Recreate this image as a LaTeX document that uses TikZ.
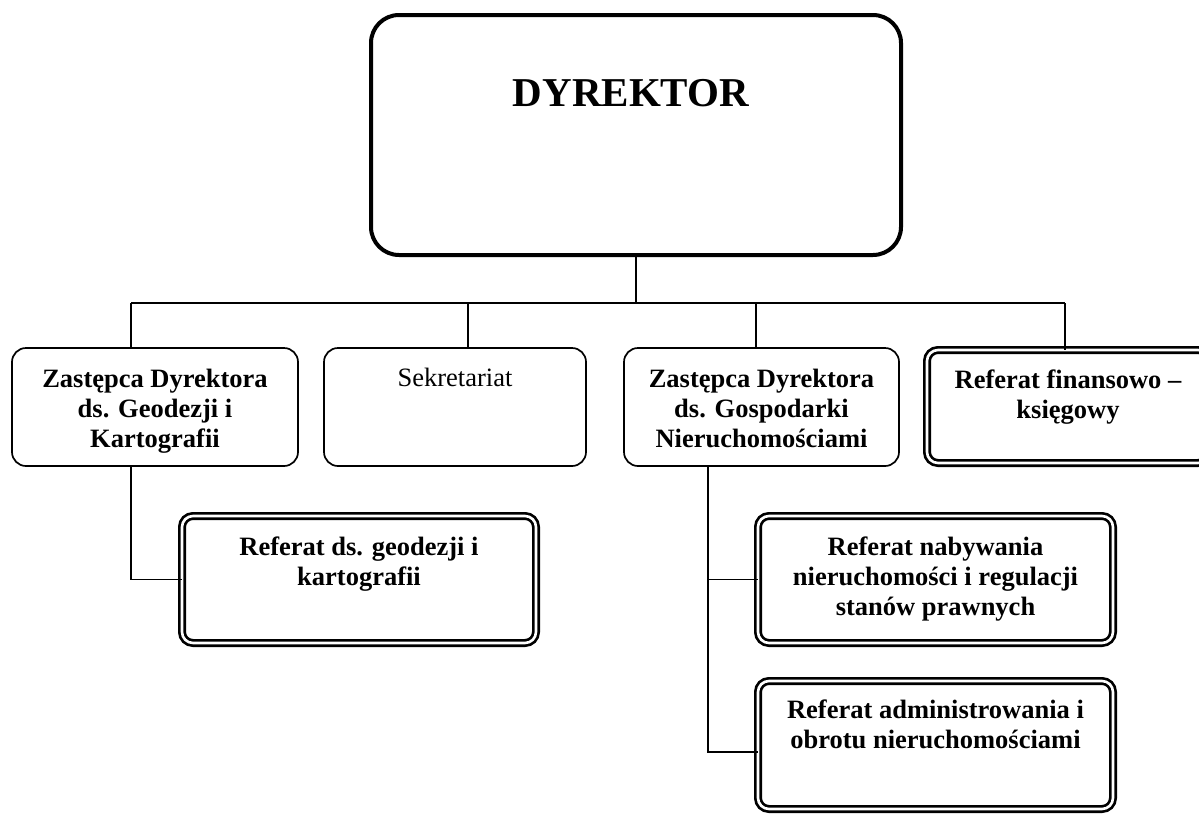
\documentclass[tikz,border=0pt]{standalone}
\usepackage{fontspec}
\setmainfont{Liberation Serif}
\usetikzlibrary{positioning}

\begin{document}
\begin{tikzpicture}[
  x=1pt, y=-1pt,
  every node/.style={inner sep=0pt, outer sep=0pt},
  boss/.style={draw, line width=4pt, rounded corners=28pt,
    minimum width=530pt, minimum height=240pt},
  unit/.style={draw, line width=1.7pt, rounded corners=14pt,
    minimum height=118pt},
  office/.style={draw, line width=2.7pt, double, double distance=2.6pt,
    rounded corners=11pt},
  txt/.style={font=\fontsize{26.5}{30}\selectfont\bfseries, align=center},
  plain/.style={font=\fontsize{26.5}{30}\selectfont, align=center},
  title/.style={font=\fontsize{41}{48}\selectfont\bfseries},
  link/.style={line width=1.5pt}]

  \useasboundingbox (0,0) rectangle (1199,814);

  % dyrektor
  \node[boss] (dyr) at (636,135) {};
  \node[title, below=64pt of dyr.north, xshift=-5pt] (dyrt) {DYREKTOR};

  % first level
  \node[unit, minimum width=286pt] (zgk) at (155,407) {};
  \node[unit, minimum width=262pt] (sekr) at (455,407) {};
  \node[unit, minimum width=275pt] (zgn) at (761.5,407) {};
  \node[office, minimum width=282pt, minimum height=113pt] (fin) at (1068,406.5) {};

  \node[txt, below=18pt of zgk.north] (zgkt)
    {\strut Zastępca Dyrektora\\ds. Geodezji i\\Kartografii};
  \node[plain, below=17pt of sekr.north] (sekrt) {\strut Sekretariat};
  \node[txt, below=18pt of zgn.north] (zgnt)
    {\strut Zastępca Dyrektora\\ds. Gospodarki\\Nieruchomościami};
  \node[txt, below=17pt of fin.north] (fint)
    {\strut Referat finansowo –\\księgowy};

  % referaty
  \node[office, minimum width=354pt, minimum height=127pt] (rgk) at (359,579.5) {};
  \node[office, minimum width=355pt, minimum height=127pt] (rnab) at (935.5,579.5) {};
  \node[office, minimum width=355pt, minimum height=128pt] (radm) at (935.5,745) {};

  \node[txt, below=18pt of rgk.north] (rgkt)
    {\strut Referat ds. geodezji i\\kartografii};
  \node[txt, below=18pt of rnab.north] (rnabt)
    {\strut Referat nabywania\\nieruchomości i regulacji\\stanów prawnych};
  \node[txt, below=16pt of radm.north] (radmt)
    {\strut Referat administrowania i\\obrotu nieruchomościami};

  % connectors
  \coordinate (b1) at (131,303);
  \coordinate (b2) at (468,303);
  \coordinate (b3) at (756,303);
  \coordinate (b4) at (1065,303);
  \draw[link] (b1) -- (b4);
  \draw[link] (dyr.south) -- (dyr.south |- b1);
  \foreach \b/\n in {b1/zgk, b2/sekr, b3/zgn, b4/fin}
    \draw[link] (\b) -- (\b |- \n.north);

  \draw[link] (b1 |- zgk.south) |- (rgk.west);

  \coordinate (g) at (708,0);
  \coordinate (g2) at (708,752);
  \draw[link] (g |- zgn.south) -- (g2) -- (g2 -| radm.west);
  \draw[link] (g |- rnab.west) -- (rnab.west);
\end{tikzpicture}
\end{document}
